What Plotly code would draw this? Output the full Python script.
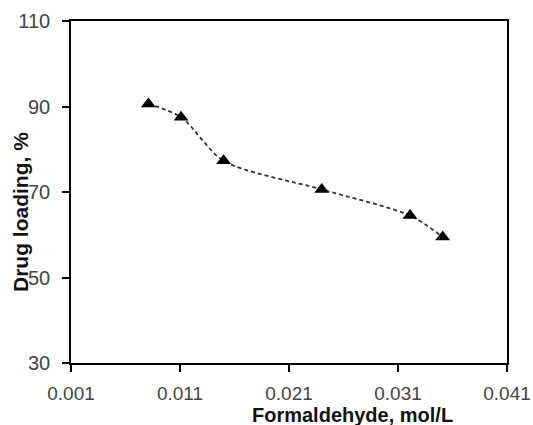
import plotly.graph_objects as go

formaldehyde = [0.0081, 0.0111, 0.0150, 0.0240, 0.0321, 0.0351]
drug_loading = [90.6, 87.5, 77.3, 70.6, 64.5, 59.5]

x_ticks = [0.001, 0.011, 0.021, 0.031, 0.041]
x_tick_labels = ["0.001", "0.011", "0.021", "0.031", "0.041"]
y_ticks = [30, 50, 70, 90, 110]
y_tick_labels = ["30", "50", "70", "90", "110"]

fig = go.Figure()
fig.add_trace(go.Scatter(
    x=formaldehyde, y=drug_loading,
    mode="lines+markers",
    line=dict(color="#333333", width=1.8, dash="4px,3px", shape="spline", smoothing=0.8),
    marker=dict(symbol="triangle-up", size=13, color="black"),
    showlegend=False,
))

font_family = "Liberation Sans, Arial, sans-serif"

L, R, T, B = 71, 26, 21, 62
W, H = 533, 425
plot_w = W - L - R
plot_h = H - T - B

fig.update_layout(
    width=W, height=H,
    margin=dict(l=L, r=R, t=T, b=B, autoexpand=False),
    paper_bgcolor="white", plot_bgcolor="white",
    font=dict(family=font_family, color="#333333", size=20),
    xaxis=dict(
        range=[0.001, 0.041], tickvals=x_ticks, ticktext=x_tick_labels,
        showgrid=False, zeroline=False, showline=True, linecolor="black",
        linewidth=1.5, mirror=True, ticks="outside", ticklen=7,
        tickcolor="black", tickwidth=1.5, ticklabelstandoff=5,
        tickfont=dict(size=19, color="#444444"), automargin=False,
    ),
    yaxis=dict(
        range=[30, 110], tickvals=y_ticks, ticktext=y_tick_labels,
        showgrid=False, zeroline=False, showline=True, linecolor="black",
        linewidth=1.5, mirror=True, ticks="outside", ticklen=7,
        tickcolor="black", tickwidth=1.5, ticklabelstandoff=8,
        tickfont=dict(size=20, color="#444444"), automargin=False,
    ),
    annotations=[
        dict(text="<b>Formaldehyde, mol/L</b>", xref="paper", yref="paper",
             x=(352 - L) / plot_w, y=-(415 - (H - B)) / plot_h, xanchor="center",
             yanchor="middle", showarrow=False,
             font=dict(size=20, color="#111111", family=font_family)),
        dict(text="<b>Drug loading, %</b>", xref="paper", yref="paper",
             x=-(L - 20) / plot_w, y=((H - B) - 212) / plot_h, xanchor="center",
             yanchor="middle", showarrow=False, textangle=-90,
             font=dict(size=21, color="#111111", family=font_family)),
    ],
)

fig.write_html(
    "out.html",
    config={"displayModeBar": False},
    post_script="document.body.style.margin='0';document.body.style.overflow='hidden';",
)
